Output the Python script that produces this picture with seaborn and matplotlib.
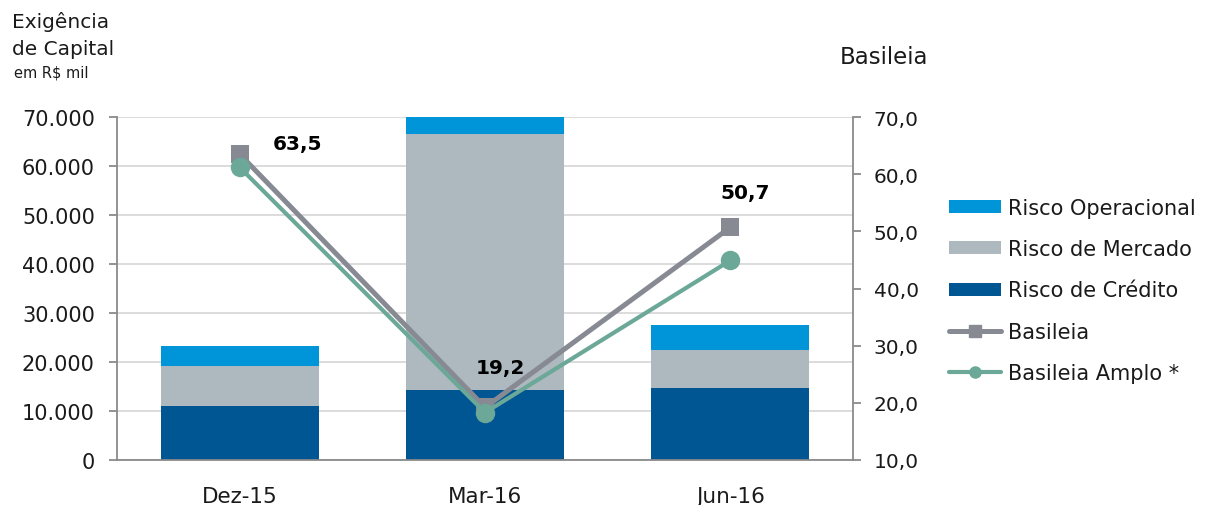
import numpy as np
import matplotlib
matplotlib.use("Agg")
import matplotlib.pyplot as plt
from matplotlib.patches import Patch
from matplotlib.lines import Line2D
from matplotlib.ticker import FuncFormatter, FixedLocator
import seaborn as sns

# Dados (R$ mil e %)
periods = ["Dez-15", "Mar-16", "Jun-16"]
risco_credito = [11100, 14350, 14600]
risco_mercado = [8000, 52150, 7800]
risco_operacional = [4200, 5500, 5200]
basileia = [63.5, 19.2, 50.7]
basileia_amplo = [61.2, 18.3, 44.9]
basileia_labels = ["63,5", "19,2", "50,7"]

c_op = "#0095d9"
c_merc = "#adb8bf"
c_cred = "#005693"
c_bas = "#878a93"
c_amp = "#6ba898"
c_axis = "#8a8a8a"
c_txt = "#1a1a1a"

sns.set_style("white")
plt.rcParams["font.family"] = ["DejaVu Sans"]

fig = plt.figure(figsize=(12.11, 5.06), dpi=100)
ax = fig.add_axes([117 / 1211, 45 / 506, 736 / 1211, 343 / 506])

# barras empilhadas: desenha os totais acumulados do maior para o menor
cred = np.array(risco_credito)
merc = cred + np.array(risco_mercado)
oper = merc + np.array(risco_operacional)
for vals, col in [(oper, c_op), (merc, c_merc), (cred, c_cred)]:
    sns.barplot(x=periods, y=vals, color=col, width=0.645, saturation=1,
                edgecolor="none", ax=ax, zorder=2)

ax.set_ylim(0, 70000)
ax.set_xlim(-0.5, 2.5)
ax.set_yticks(np.arange(0, 70001, 10000))
ax.yaxis.set_major_formatter(FuncFormatter(lambda v, p: f"{int(v):,}".replace(",", ".")))
ax.grid(axis="y", color="#d9d9d9", linewidth=1.3)
ax.set_axisbelow(True)
ax.set_xlabel("")
ax.set_ylabel("")
for s in ["top", "right"]:
    ax.spines[s].set_visible(False)
for s in ["left", "bottom"]:
    ax.spines[s].set_color(c_axis)
    ax.spines[s].set_linewidth(1.3)
ax.tick_params(axis="y", direction="out", length=6, width=1.3, color=c_axis,
               labelsize=15, pad=10, labelcolor=c_txt)
ax.tick_params(axis="x", which="major", length=0, labelsize=15.5, pad=19,
               labelcolor=c_txt)
ax.xaxis.set_minor_locator(FixedLocator([0.5, 1.5]))
ax.tick_params(axis="x", which="minor", direction="out", length=6, width=1.3,
               color=c_axis)

# eixo secundário - Basileia
ax2 = ax.twinx()
x = np.arange(len(periods))
sns.lineplot(x=x, y=basileia, color=c_bas, linewidth=3.6, marker="s",
             markersize=13, markeredgewidth=0, ax=ax2, zorder=4)
sns.lineplot(x=x, y=basileia_amplo, color=c_amp, linewidth=3.0, marker="o",
             markersize=14, markeredgewidth=0, ax=ax2, zorder=5)
ax2.set_ylim(10, 70)
ax2.set_xlim(-0.5, 2.5)
ax2.set_yticks(np.arange(10, 71, 10))
ax2.yaxis.set_major_formatter(FuncFormatter(lambda v, p: f"{v:.1f}".replace(".", ",")))
ax2.grid(False)
for s in ["top", "left", "bottom"]:
    ax2.spines[s].set_visible(False)
ax2.spines["right"].set_color(c_axis)
ax2.spines["right"].set_linewidth(1.3)
ax2.tick_params(axis="y", direction="out", length=6, width=1.3, color=c_axis,
                labelsize=14.5, pad=9, labelcolor=c_txt)

offsets = [(42, 8), (11, 29), (11, 25)]
for xi, yi, lab, off in zip(x, basileia, basileia_labels, offsets):
    ax2.annotate(lab, (xi, yi), xytext=off, textcoords="offset points",
                 ha="center", va="center", fontsize=14.5, fontweight="bold",
                 color="black")

# títulos dos eixos
fig.text(12 / 1211, 1 - 28 / 506, "Exigência", fontsize=14.5, va="baseline", color=c_txt)
fig.text(12 / 1211, 1 - 55 / 506, "de Capital", fontsize=14.5, va="baseline", color=c_txt)
fig.text(14 / 1211, 1 - 77 / 506, "em R$ mil", fontsize=10.5, va="baseline", color=c_txt)
fig.text(840 / 1211, 1 - 64 / 506, "Basileia", fontsize=16.5, va="baseline", color=c_txt)

handles = [
    Patch(facecolor=c_op, edgecolor="none"),
    Patch(facecolor=c_merc, edgecolor="none"),
    Patch(facecolor=c_cred, edgecolor="none"),
    Line2D([], [], color=c_bas, linewidth=3.6, marker="s", markersize=8),
    Line2D([], [], color=c_amp, linewidth=3.0, marker="o", markersize=8),
]
labels = ["Risco Operacional", "Risco de Mercado", "Risco de Crédito",
          "Basileia", "Basileia Amplo *"]
fig.legend(handles, labels, loc="upper left", bbox_to_anchor=(949 / 1211, 1 - 199 / 506),
           frameon=False, fontsize=15, handlelength=2.5, handleheight=0.58,
           handletextpad=0.33, labelspacing=1.02, borderpad=0, borderaxespad=0,
           labelcolor=c_txt)

fig.savefig("out.png", dpi=100)
